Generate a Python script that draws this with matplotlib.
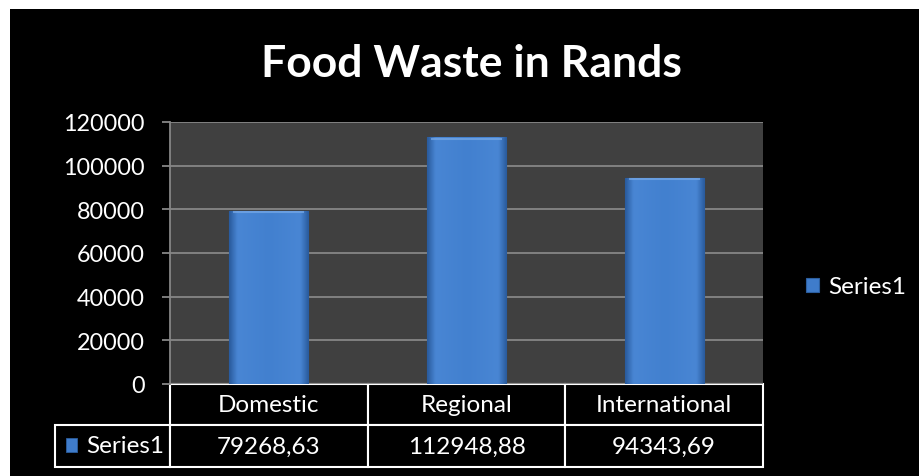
import matplotlib
matplotlib.use("Agg")
import matplotlib.pyplot as plt
import numpy as np
from matplotlib.patches import Rectangle
from matplotlib.table import Table
from matplotlib.colors import LinearSegmentedColormap

categories = ["Domestic", "Regional", "International"]
values = [79268.63, 112948.88, 94343.69]
value_labels = ["79268,63", "112948,88", "94343,69"]
series_name = "Series1"
title = "Food Waste in Rands"
yticks = [0, 20000, 40000, 60000, 80000, 100000, 120000]

plt.rcParams['font.family'] = ['Lato', 'DejaVu Sans']

W, H = 919, 477
AW, AH = 593, 262   # axes size in px
fig = plt.figure(figsize=(W / 100, H / 100), dpi=100, facecolor='white')
# black chart area, white strip on top and left
fig.patches.append(Rectangle((10 / W, 0), 1, 1 - 10 / H, transform=fig.transFigure,
                             facecolor='black', edgecolor='none', zorder=-5))

ax = fig.add_axes([170 / W, 1 - 385 / H, AW / W, AH / H])
ax.set_facecolor('#404040')

x = np.arange(len(categories))
bars = ax.bar(x, values, width=0.4, color='#3F7CCB', edgecolor='#2C5E9F', linewidth=0.8, zorder=3)

# horizontal shading on the bars
bar_cmap = LinearSegmentedColormap.from_list(
    'barshade', [(0, '#2A5C9E'), (0.1, '#4986D4'), (0.5, '#4280CF'), (0.9, '#4986D4'), (1, '#2A5C9E')])
grad = np.linspace(0, 1, 64).reshape(1, -1)
for b in bars:
    x0, w, h = b.get_x(), b.get_width(), b.get_height()
    im = ax.imshow(grad, extent=[x0, x0 + w, 0, h], aspect='auto', cmap=bar_cmap,
                   zorder=4, interpolation='bicubic')
    im.set_clip_path(b)
    ax.plot([x0 + 0.02, x0 + w - 0.02], [h * 0.993, h * 0.993], color='#78AAE8', lw=1.5,
            alpha=0.7, zorder=5, solid_capstyle='butt')

ax.set_xlim(-0.5, len(categories) - 0.5)
ax.set_ylim(0, 120000)
ax.set_yticks(yticks)
ax.set_yticklabels([str(t) for t in yticks])
ax.set_xticks([])
ax.yaxis.grid(True, color='#868686', linewidth=1.3, zorder=1)
ax.set_axisbelow(True)
for s in ['top', 'right', 'bottom']:
    ax.spines[s].set_visible(False)
ax.spines['left'].set_color('#868686')
ax.spines['left'].set_linewidth(1.3)
ax.tick_params(axis='y', colors='#868686', length=6, width=1.3, pad=12,
               labelsize=16.8, labelcolor='white')

# data table under the axis (cell sizes in axes fractions)
tbl = Table(ax, bbox=[0, -83 / AH, 1, 83 / AH])
cw = 1 / len(categories)
for j, c in enumerate(categories):
    tbl.add_cell(0, j, width=cw, height=41 / AH, text=c, loc='center',
                 facecolor='black', edgecolor='white')
    tbl.add_cell(1, j, width=cw, height=42 / AH, text=value_labels[j], loc='center',
                 facecolor='black', edgecolor='white')
cell = tbl.add_cell(1, -1, width=115 / AW, height=42 / AH, text=series_name, loc='right',
                    facecolor='black', edgecolor='white')
cell.PAD = 0.05
tbl.auto_set_font_size(False)
tbl.set_fontsize(17.5)
ax.add_table(tbl)
tbl.set_clip_on(False)
for c in tbl.get_celld().values():
    c.set_linewidth(1.5)
    c.get_text().set_color('white')
ax.add_patch(Rectangle(((66 - 170) / AW, (385 - 453) / AH), 11 / AW, 14 / AH,
                       transform=ax.transAxes, facecolor='#3F7CCB', edgecolor='#2C5E9F',
                       lw=0.6, clip_on=False, zorder=6))

# legend
leg = fig.legend([bars[0]], [series_name], loc='center left',
                 bbox_to_anchor=(806 / W, 1 - 288 / H), frameon=False, fontsize=17.5,
                 handlelength=0.55, handleheight=0.55, handletextpad=0.35,
                 borderpad=0, borderaxespad=0)
for t in leg.get_texts():
    t.set_color('white')

fig.text(471 / W, 1 - 77 / H, title, ha='center', va='baseline', color='white',
         fontsize=32, fontweight='bold')

fig.savefig('out.png', dpi=100, facecolor=fig.get_facecolor())
